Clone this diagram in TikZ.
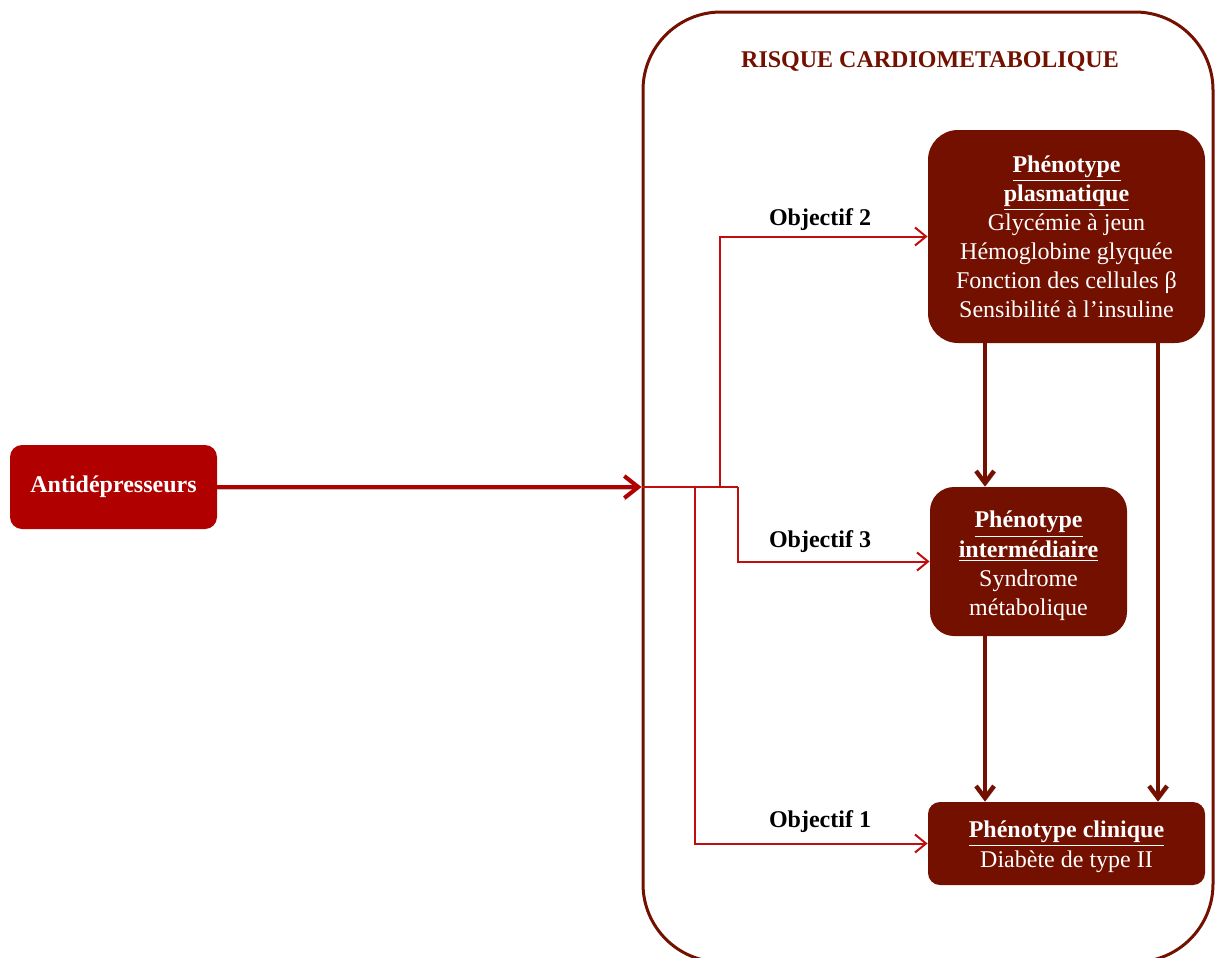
\documentclass[tikz,border=0pt]{standalone}
\usepackage{fontspec}
\setmainfont{Liberation Serif}
\usetikzlibrary{arrows.meta}

\definecolor{antired}{RGB}{176,0,0}
\definecolor{phenored}{RGB}{115,16,0}
\definecolor{linkred}{RGB}{192,14,14}

\tikzset{
    phenobox/.style={fill=phenored, text=white, rounded corners=#1, align=center, inner sep=0pt,
        font=\fontsize{12}{14.5}\selectfont},
    phenobox/.default=6pt,
    objlink/.style={draw=linkred, line width=1pt, -{Straight Barb[length=5.5pt,width=9pt]}},
    phenolink/.style={draw=phenored, line width=2.2pt, -{Straight Barb[length=6pt,width=9pt]},
        preaction={draw=black!25, transform canvas={xshift=0.8pt,yshift=-0.8pt}}},
    objlabel/.style={font=\bfseries\fontsize{12}{14.5}\selectfont}
}

\begin{document}
\begin{tikzpicture}[x=0.5pt,y=-0.5pt]

    \useasboundingbox (0,0) rectangle (1216,958);

    %outer frame
    \node[draw=phenored, line width=1.5pt, rounded corners=39pt, minimum width=285pt, minimum height=475pt] (risque) at (928,487) {};
    \node[font=\bfseries\fontsize{12}{14}\selectfont, text=phenored] (titre) at (930,61) {RISQUE CARDIOMETABOLIQUE};

    %phenotype boxes
    \node[phenobox=15pt, minimum width=138.5pt, minimum height=106.5pt] (plasma) at (1066.5,236.5)
        {\textbf{\underline{Phénotype}}\\ \textbf{\underline{plasmatique}}\\ Glycémie à jeun\\ Hémoglobine glyquée\\ Fonction des cellules β\\ Sensibilité à l’insuline};
    \node[phenobox=12pt, minimum width=98.5pt, minimum height=74.5pt] (inter) at (1028.5,561.5)
        {\raisebox{-2.2pt}[\height][\depth]{\begin{tabular}{@{}c@{}}\textbf{\underline{Phénotype}}\\ \textbf{\underline{intermédiaire}}\\ Syndrome\\ métabolique\end{tabular}}};
    \node[phenobox=6pt, minimum width=138.5pt, minimum height=41.5pt] (clin) at (1066.5,843.5)
        {\raisebox{-1.6pt}[\height][\depth]{\begin{tabular}{@{}c@{}}\textbf{\underline{Phénotype clinique}}\\ Diabète de type II\end{tabular}}};

    %drug box
    \node[phenobox=6pt, fill=antired, minimum width=103.5pt, minimum height=42pt,
        font=\bfseries\fontsize{12}{14.5}\selectfont] (antidep) at (113.5,487) {Antidépresseurs};

    %main arrow
    \draw[draw=antired, line width=2pt, -{Straight Barb[length=7pt,width=11pt]},
        preaction={draw=black!25, transform canvas={yshift=-1.2pt}}] (antidep.east) -- (risque.west);

    %objective branches
    \coordinate (b1) at (695,487);
    \coordinate (b2) at (720,487);
    \coordinate (b3) at (738,487);
    \draw[draw=linkred, line width=1pt] (risque.west) -- (b3);
    \draw[objlink] (b2) |- (plasma.west);
    \draw[objlink] (b3) |- (inter.west);
    \draw[objlink] (b1) |- (clin.west);

    \node[objlabel] (obj2) at (820,220) {Objectif 2};
    \node[objlabel] (obj3) at (820,542) {Objectif 3};
    \node[objlabel] (obj1) at (820,822) {Objectif 1};

    %links between phenotypes
    \draw[phenolink] ([xshift=-40.75pt]plasma.south) -- ([xshift=-40.75pt]plasma.south |- inter.north);
    \draw[phenolink] ([xshift=45.75pt]plasma.south) -- ([xshift=45.75pt]plasma.south |- clin.north);
    \draw[phenolink] ([xshift=-21.75pt]inter.south) -- ([xshift=-21.75pt]inter.south |- clin.north);

\end{tikzpicture}
\end{document}
